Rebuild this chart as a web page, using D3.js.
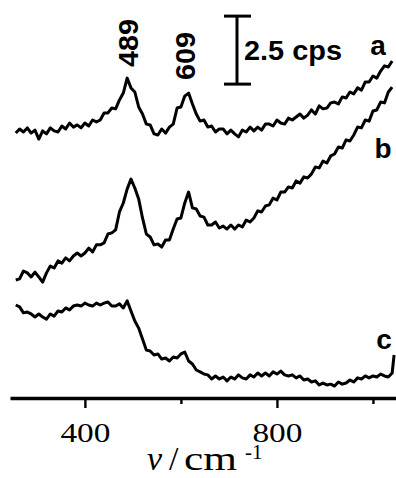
<!DOCTYPE html>
<html>
<head>
<meta charset="utf-8">
<script src="https://cdn.jsdelivr.net/npm/d3@7"></script>
<style>
  html, body { margin: 0; padding: 0; background: #fff; }
  svg { display: block; }
</style>
</head>
<body>
<figure class="raman" style="margin:0"></figure>
<script>
// Raman shift (cm-1) sample positions
const wavenumber = [256,264,272,280,288,296,304,312,320,328,336,344,352,360,368,376,384,392,400,408,
  416,424,432,440,448,456,464,472,480,488,496,504,512,520,528,536,544,552,560,568,
  576,584,592,600,608,616,624,632,640,648,656,664,672,680,688,696,704,712,720,728,
  736,744,752,760,768,776,784,792,800,808,816,824,832,840,848,856,864,872,880,888,
  896,904,912,920,928,936,944,952,960,968,976,984,992,1000,1008,1016,1024,1032,1040,1044];

// intensities (cps, traces offset)
const seriesA = [9.74,9.89,9.78,9.93,9.74,9.85,9.52,9.82,9.71,9.93,
  9.82,9.78,10.00,9.89,10.11,9.96,10.04,9.93,10.11,10.00,
  10.22,10.15,10.22,10.48,10.48,10.66,10.63,10.96,11.21,11.76,
  11.40,11.25,10.70,10.44,10.07,10.04,9.71,9.67,9.89,9.74,
  9.96,10.07,10.66,10.70,11.10,11.21,10.81,10.44,10.18,10.22,
  9.96,10.00,9.78,9.89,9.89,9.71,9.85,9.71,9.60,9.85,
  9.78,9.96,9.82,9.96,9.85,10.07,10.07,10.00,10.22,10.11,
  10.07,10.29,10.22,10.33,10.44,10.29,10.40,10.59,10.44,10.74,
  10.63,10.66,10.85,10.88,10.81,11.07,11.03,11.25,11.18,11.40,
  11.32,11.62,11.62,11.84,11.76,12.02,12.21,12.17,12.39];

const seriesB = [4.34,4.38,4.67,4.60,4.45,4.63,4.45,4.26,4.60,4.85,
  4.78,5.04,4.96,5.15,5.04,5.22,5.33,5.22,5.33,5.51,
  5.37,5.63,5.63,5.70,6.03,6.07,6.18,6.84,7.17,7.68,
  8.05,7.72,7.32,6.62,6.03,5.92,5.63,5.66,5.55,5.81,
  5.81,6.21,6.58,6.62,7.17,7.57,6.99,6.95,6.69,6.65,
  6.36,6.36,6.47,6.25,6.32,6.21,6.36,6.21,6.36,6.29,
  6.54,6.47,6.62,6.88,6.84,7.06,7.10,7.35,7.28,7.57,
  7.57,7.76,7.72,7.98,7.90,8.13,8.09,8.24,8.49,8.46,
  8.71,8.64,8.90,8.97,9.23,9.19,9.49,9.45,9.67,9.96,
  9.93,10.22,10.18,10.55,10.59,10.88,10.85,11.25,11.43];

const seriesC = [3.42,3.35,3.13,3.16,3.09,2.98,3.09,2.98,2.90,3.09,
  3.01,3.20,3.16,3.31,3.24,3.38,3.42,3.38,3.49,3.42,
  3.38,3.49,3.42,3.49,3.53,3.38,3.38,3.46,3.31,3.57,
  3.20,2.83,2.57,2.17,1.76,1.73,1.58,1.62,1.43,1.47,
  1.36,1.51,1.47,1.62,1.69,1.36,1.25,1.03,0.96,0.88,
  0.85,0.70,0.81,0.70,0.77,0.63,0.77,0.70,0.85,0.74,
  0.70,0.85,0.77,0.92,0.81,0.92,0.81,0.96,0.88,0.99,
  0.85,0.81,0.85,0.74,0.81,0.66,0.70,0.59,0.63,0.48,
  0.55,0.48,0.51,0.44,0.59,0.51,0.55,0.66,0.59,0.74,
  0.70,0.81,0.74,0.81,0.77,0.88,0.81,0.77,0.92,1.58];

const traceNames = ['a', 'b', 'c'];
const peaks = [489, 609];
const majorTicks = [400, 800];
const minorTicks = [600, 1000];
const scaleBar = {base: 11.54, size: 2.5, label: '2.5 cps'};

const width = 396, height = 478;
const axisY = 398;
const sans = '"Liberation Sans", Arial, sans-serif';
const serif = '"Liberation Serif", "Times New Roman", serif';

const svg = d3.select('figure.raman')
  .append('svg')
  .attr('width', width)
  .attr('height', height);

// scales
const x = d3.scaleLinear().domain([244, 1048]).range([10, 396]);
const y = d3.scaleLinear().domain([0, 14]).range([axisY, 17.2]);

// spectra
const line = d3.line()
  .x((d, i) => x(wavenumber[i]))
  .y(d => y(d));

[seriesA, seriesB, seriesC].forEach(s => {
  svg.append('path')
    .attr('d', line(s))
    .attr('fill', 'none')
    .attr('stroke', '#000')
    .attr('stroke-width', 3)
    .attr('stroke-linejoin', 'round');
});

// x axis (major ticks with labels)
const xAxis = d3.axisBottom(x)
  .tickValues(majorTicks)
  .tickSize(10)
  .tickSizeOuter(0)
  .tickFormat(d => `${d}`);

const gx = svg.append('g')
  .attr('transform', 'translate(0,' + axisY + ')')
  .call(xAxis);

gx.select('.domain').attr('stroke-width', 3.5).attr('stroke', '#000');
gx.selectAll('.tick line').attr('stroke-width', 2.4).attr('stroke', '#000');
gx.selectAll('.tick text')
  .attr('y', 44)
  .attr('dy', 0)
  .attr('fill', '#000')
  .style('font-family', serif)
  .style('font-size', '27px')
  .attr('textLength', 50)
  .attr('lengthAdjust', 'spacingAndGlyphs');

// minor ticks
svg.append('g')
  .attr('transform', 'translate(0,' + axisY + ')')
  .call(d3.axisBottom(x).tickValues(minorTicks).tickSize(6).tickFormat(''))
  .call(g => g.select('.domain').remove())
  .selectAll('.tick line').attr('stroke-width', 2.4).attr('stroke', '#000');

// x axis title
const titleY = 470;
svg.append('text')
  .attr('x', 147).attr('y', titleY)
  .style('font-family', serif).style('font-size', '34px').style('font-style', 'italic')
  .text('\u03BD');
svg.append('text')
  .attr('x', 169).attr('y', titleY)
  .style('font-family', serif).style('font-size', '34px')
  .text('/');
svg.append('text')
  .attr('x', 184).attr('y', titleY)
  .style('font-family', serif).style('font-size', '34px')
  .attr('textLength', 53).attr('lengthAdjust', 'spacingAndGlyphs')
  .text('cm');
svg.append('text')
  .attr('x', 245).attr('y', 459)
  .style('font-family', serif).style('font-size', '21px')
  .text('-1');

// peak labels
const peakTop = [67, 80];
peaks.forEach((p, i) => {
  svg.append('text')
    .attr('transform', 'translate(' + (x(p) + 10) + ',' + peakTop[i] + ') rotate(-90)')
    .style('font-family', sans)
    .style('font-size', '28px')
    .style('font-weight', 'bold')
    .attr('textLength', 48)
    .attr('lengthAdjust', 'spacingAndGlyphs')
    .text(`${p}`);
});

// scale bar
const barX = 237;
svg.append('line')
  .attr('x1', barX).attr('x2', barX)
  .attr('y1', y(scaleBar.base)).attr('y2', y(scaleBar.base + scaleBar.size))
  .attr('stroke', '#000').attr('stroke-width', 3);
[scaleBar.base, scaleBar.base + scaleBar.size].forEach(v => {
  svg.append('line')
    .attr('x1', barX - 13).attr('x2', barX + 14)
    .attr('y1', y(v)).attr('y2', y(v))
    .attr('stroke', '#000').attr('stroke-width', 3);
});
svg.append('text')
  .attr('x', 244).attr('y', 60)
  .style('font-family', sans).style('font-size', '27px').style('font-weight', 'bold')
  .attr('textLength', 98).attr('lengthAdjust', 'spacingAndGlyphs')
  .text(scaleBar.label);

// trace labels
const labelPos = [[378, 55], [383, 158], [384, 349]];
traceNames.forEach((t, i) => {
  svg.append('text')
    .attr('x', labelPos[i][0]).attr('y', labelPos[i][1])
    .attr('text-anchor', 'middle')
    .style('font-family', sans).style('font-size', '28px').style('font-weight', 'bold')
    .text(t);
});
</script>
</body>
</html>
